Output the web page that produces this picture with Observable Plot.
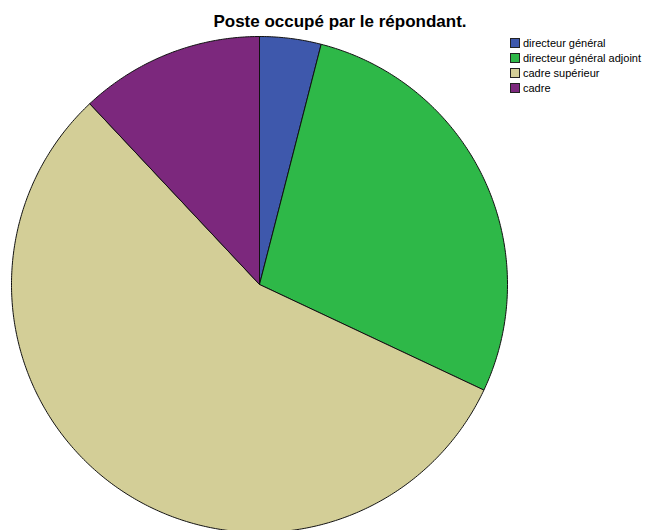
<!DOCTYPE html>
<html>
<head>
<meta charset="utf-8">
<script src="https://cdn.jsdelivr.net/npm/d3@7"></script>
<script src="https://cdn.jsdelivr.net/npm/@observablehq/plot@0.6"></script>
<style>
  html, body { margin: 0; padding: 0; background: #fff; }
  #wrap { position: relative; width: 649px; height: 530px; overflow: hidden; font-family: "Liberation Sans", Arial, sans-serif; }
  #title { position: absolute; left: 0; width: 680px; top: 12px; text-align: center; font-weight: bold; font-size: 17px; color: #000; }
  #legend { position: absolute; left: 510px; top: 35px; font-size: 11px; color: #000; }
  .item { display: flex; align-items: center; height: 15px; }
  .sw { width: 10px; height: 10px; border: 1px solid #222; margin-right: 3px; box-sizing: border-box; }
</style>
</head>
<body>
<div id="wrap">
  <div id="chart"></div>
  <div id="title"></div>
  <div id="legend"></div>
</div>
<script>
const titleText = "Poste occupé par le répondant.";
const categories = ["directeur général", "directeur général adjoint", "cadre supérieur", "cadre"];
const counts = [1, 7, 14, 3];
const colors = ["#3E58AC", "#2EB848", "#D3CE97", "#7C287D"];

// pie angles from the library (start at 12 o'clock, clockwise, data order)
const arcs = d3.pie().sort(null).value(d => d.count)(categories.map((c, i) => ({cat: c, count: counts[i]})));

// slice outlines in unit-circle coordinates
const pts = [];
for (const a of arcs) {
  const cat = a.data.cat;
  pts.push({cat, x: 0, y: 0});
  const steps = Math.max(2, Math.ceil((a.endAngle - a.startAngle) / 0.01));
  for (let k = 0; k <= steps; k++) {
    const t = a.startAngle + (a.endAngle - a.startAngle) * k / steps;
    pts.push({cat, x: Math.sin(t), y: Math.cos(t)});
  }
  pts.push({cat, x: 0, y: 0});
}

const cx = 259, cy = 284, r = 248;
const chart = Plot.plot({
  width: 649,
  height: 530,
  margin: 0,
  x: {domain: [-1, 1], range: [cx - r, cx + r], axis: null},
  y: {domain: [-1, 1], range: [cy + r, cy - r], axis: null},
  color: {domain: categories, range: colors},
  marks: [
    Plot.line(pts, {x: "x", y: "y", z: "cat", fill: "cat", stroke: "#111", strokeWidth: 1, strokeLinejoin: "round", curve: "linear"})
  ]
});
document.getElementById("chart").appendChild(chart);
document.getElementById("title").textContent = titleText;
const leg = document.getElementById("legend");
categories.forEach((c, i) => {
  const it = document.createElement("div");
  it.className = "item";
  const sw = document.createElement("div");
  sw.className = "sw";
  sw.style.background = colors[i];
  const tx = document.createElement("span");
  tx.textContent = c;
  it.appendChild(sw); it.appendChild(tx);
  leg.appendChild(it);
});
</script>
</body>
</html>
